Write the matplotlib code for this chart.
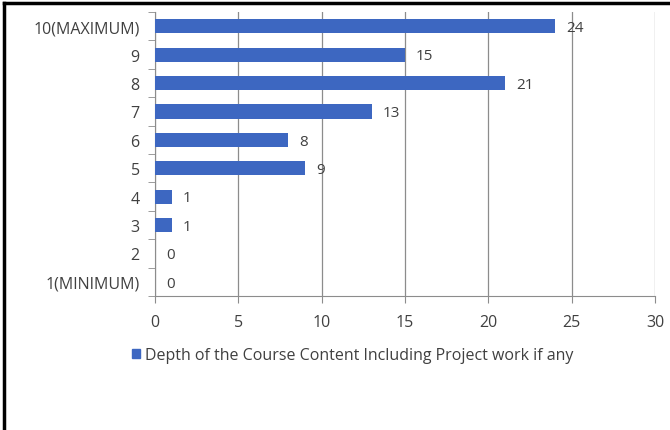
import numpy as np
import matplotlib.pyplot as plt
from matplotlib.patches import Patch

categories = ["1(MINIMUM)", "2", "3", "4", "5", "6", "7", "8", "9", "10(MAXIMUM)"]
values = [0, 0, 1, 1, 9, 8, 13, 21, 15, 24]
series_name = "Depth of the Course Content Including Project work if any"

bar_color = "#3D67C1"
text_color = "#404040"
grid_color = "#8C8C8C"

plt.rcParams['font.family'] = ['Open Sans', 'DejaVu Sans']

fig = plt.figure(figsize=(6.7, 4.31), dpi=100)
ax = fig.add_axes([155 / 670, 1 - 297 / 431, 500 / 670, 284 / 431])

y = np.arange(len(categories))
ax.barh(y, values, height=0.5, color=bar_color, zorder=3)

for yi, v in zip(y, values):
    ax.annotate(str(v), (v, yi), xytext=(8, -1), textcoords="offset points",
                ha="left", va="center", fontsize=11, color=text_color)

ax.set_xlim(0, 30)
ax.set_ylim(-0.5, len(categories) - 0.5)
ax.set_xticks(np.arange(0, 31, 5))
ax.set_yticks(y)
ax.set_yticklabels(categories)
ax.set_yticks(np.arange(-0.5, len(categories), 1), minor=True)

ax.tick_params(axis="y", which="major", length=0, pad=11, labelsize=11.5, labelcolor=text_color)
ax.tick_params(axis="y", which="minor", length=5, color=grid_color, direction="out")
ax.tick_params(axis="x", which="major", length=5, color=grid_color, pad=8,
               labelsize=11.5, labelcolor=text_color)

ax.grid(axis="x", color=grid_color, linewidth=0.9, zorder=0)
for s in ["top", "right"]:
    ax.spines[s].set_visible(False)
for s in ["left", "bottom"]:
    ax.spines[s].set_color(grid_color)

fig.legend(handles=[Patch(color=bar_color, label=series_name)],
           loc="center", bbox_to_anchor=(353 / 670, 1 - 356 / 431),
           frameon=False, fontsize=11.5, labelcolor=text_color,
           handlelength=0.5, handleheight=0.5, handletextpad=0.3)

# outer frame of the chart box
fig.add_artist(plt.Line2D([4 / 670, 4 / 670], [0, 1 - 4 / 431], color="black", linewidth=2.5))
fig.add_artist(plt.Line2D([4 / 670, 1], [1 - 4 / 431, 1 - 4 / 431], color="black", linewidth=2.5))

fig.savefig("out.png", dpi=100)
